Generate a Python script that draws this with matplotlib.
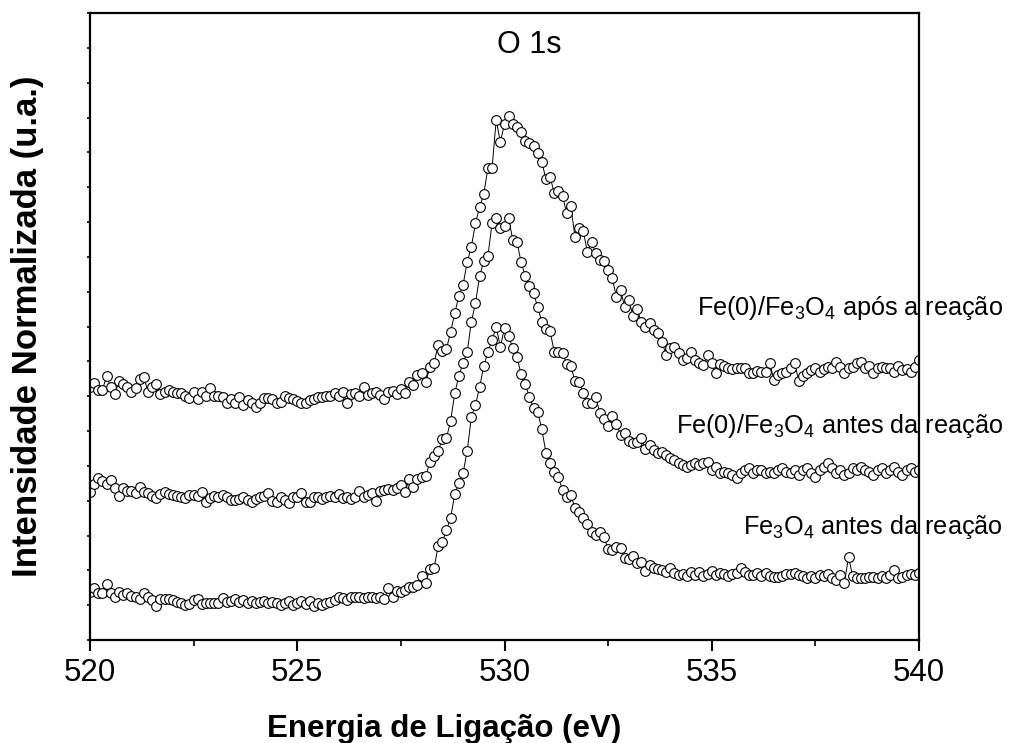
import numpy as np
import matplotlib
matplotlib.use("Agg")
import matplotlib.pyplot as plt
from matplotlib.ticker import MultipleLocator

plt.rcParams['font.family'] = ['Liberation Sans', 'DejaVu Sans']
plt.rcParams['mathtext.fontset'] = 'custom'
plt.rcParams['mathtext.rm'] = 'Liberation Sans'
plt.rcParams['mathtext.it'] = 'Liberation Sans:italic'
plt.rcParams['mathtext.bf'] = 'Liberation Sans:bold'

# binding energy grid (eV), 0.1 eV steps
energia = np.round(np.linspace(520.0, 540.0, 201), 1)

# Fe3O4 antes da reacao (u.a.)
fe3o4_antes = [
    48, 52, 47, 47, 56, 47, 43, 48, 45, 47,
    44, 43, 41, 47, 43, 40, 34, 41, 41, 41,
    40, 38, 37, 35, 36, 40, 41, 36, 37, 37,
    37, 37, 42, 38, 39, 41, 38, 40, 37, 39,
    37, 38, 39, 37, 38, 37, 35, 37, 39, 35,
    37, 39, 36, 39, 34, 37, 35, 37, 38, 40,
    43, 42, 40, 43, 43, 43, 42, 43, 43, 42,
    43, 41, 52, 43, 49, 48, 50, 53, 53, 55,
    64, 57, 71, 72, 94, 98, 110, 122, 146, 157,
    167, 189, 223, 235, 253, 274, 288, 300, 313, 293,
    312, 304, 292, 283, 266, 256, 243, 232, 228, 211,
    187, 177, 168, 163, 150, 143, 145, 132, 128, 122,
    116, 108, 105, 108, 103, 91, 90, 93, 92, 82,
    81, 84, 77, 78, 69, 75, 72, 71, 70, 68,
    72, 67, 65, 66, 64, 68, 65, 68, 64, 66,
    69, 65, 67, 66, 64, 66, 67, 72, 68, 65,
    65, 67, 64, 67, 64, 63, 63, 64, 66, 66,
    67, 65, 64, 62, 64, 62, 65, 64, 66, 62,
    60, 65, 57, 83, 64, 62, 62, 62, 63, 63,
    62, 64, 62, 65, 70, 62, 63, 65, 66, 65, 67,
]

# Fe(0)/Fe3O4 antes da reacao (u.a.)
fe0_antes = [
    148, 156, 162, 159, 156, 160, 152, 144, 152, 149,
    149, 147, 153, 148, 147, 144, 142, 146, 148, 146,
    145, 144, 143, 142, 145, 145, 144, 148, 138, 142,
    144, 143, 145, 143, 140, 140, 141, 143, 140, 138,
    141, 143, 144, 147, 139, 138, 143, 140, 137, 143,
    143, 147, 138, 138, 143, 143, 141, 143, 144, 143,
    146, 142, 143, 141, 143, 149, 143, 145, 147, 139,
    149, 150, 151, 150, 152, 155, 148, 161, 153, 161,
    163, 164, 178, 184, 189, 201, 202, 219, 247, 264,
    277, 288, 318, 337, 364, 379, 384, 417, 422, 412,
    414, 422, 400, 398, 378, 364, 354, 347, 333, 318,
    311, 309, 288, 288, 287, 276, 274, 259, 258, 247,
    237, 237, 243, 227, 221, 214, 224, 216, 205, 207,
    199, 197, 198, 202, 191, 195, 190, 187, 188, 185,
    182, 180, 177, 175, 173, 175, 177, 175, 177, 178,
    170, 173, 167, 168, 167, 165, 162, 167, 170, 172,
    167, 170, 170, 167, 168, 167, 170, 172, 168, 167,
    170, 165, 170, 172, 167, 163, 170, 173, 177, 172,
    167, 170, 165, 167, 172, 170, 173, 170, 168, 165,
    170, 172, 167, 170, 173, 168, 165, 170, 172, 168, 170,
]

# Fe(0)/Fe3O4 apos a reacao (u.a.)
fe0_apos = [
    253, 257, 250, 250, 264, 253, 246, 259, 256, 253,
    248, 252, 261, 263, 248, 253, 256, 246, 248, 250,
    248, 247, 247, 244, 242, 248, 241, 248, 244, 252,
    244, 244, 243, 237, 241, 237, 243, 235, 240, 237,
    233, 237, 242, 242, 241, 237, 238, 244, 242, 241,
    239, 237, 237, 240, 241, 243, 243, 244, 244, 247,
    244, 248, 237, 246, 247, 244, 253, 245, 247, 248,
    245, 241, 248, 249, 246, 251, 247, 258, 255, 265,
    267, 258, 273, 277, 295, 289, 291, 308, 327, 344,
    355, 378, 393, 417, 433, 446, 472, 472, 520, 498,
    516, 524, 516, 513, 508, 499, 497, 494, 487, 478,
    461, 463, 447, 449, 444, 427, 434, 403, 412, 409,
    388, 398, 387, 380, 379, 370, 362, 343, 350, 333,
    340, 324, 331, 318, 313, 317, 310, 307, 298, 285,
    292, 293, 287, 280, 282, 288, 280, 277, 275, 285,
    277, 267, 276, 274, 272, 271, 272, 272, 272, 267,
    267, 269, 268, 268, 277, 260, 265, 267, 268, 272,
    277, 259, 264, 267, 270, 272, 268, 271, 273, 272,
    278, 273, 267, 272, 273, 277, 278, 272, 274, 267,
    272, 273, 272, 272, 268, 274, 270, 271, 268, 273, 280,
]

series = [fe3o4_antes, fe0_antes, fe0_apos]
labels = ['Fe$_3$O$_4$ antes da reação',
          'Fe(0)/Fe$_3$O$_4$ antes da reação',
          'Fe(0)/Fe$_3$O$_4$ após a reação']
label_y = [106, 207, 325]

fig = plt.figure(figsize=(10.09, 7.43), dpi=100)
ax = fig.add_axes([0.0892, 0.1386, 0.8216, 0.8439])

for s in series:
    ax.plot(energia, s, '-', color='black', lw=0.7,
            marker='o', ms=7.0, mfc='white', mec='black', mew=0.8)

ax.set_xlim(520, 540)
ax.set_ylim(0, 627)
ax.xaxis.set_major_locator(MultipleLocator(5))
ax.xaxis.set_minor_locator(MultipleLocator(2.5))
ax.set_yticks(np.linspace(0, 627, 19))
ax.set_yticklabels([])

ax.tick_params(axis='x', which='major', direction='out', length=8, width=1.5,
               labelsize=22.5, pad=5, top=False)
ax.tick_params(axis='x', which='minor', direction='out', length=4, width=1.2, top=False)
ax.tick_params(axis='y', which='major', direction='out', length=2.5, width=1.2, right=False)
for sp in ax.spines.values():
    sp.set_linewidth(1.6)

ax.set_xlabel('Energia de Ligação (eV)', fontsize=22.5, fontweight='bold')
ax.xaxis.set_label_coords(0.427, -0.118)
ax.set_ylabel('Intensidade Normalizada (u.a.)', fontsize=25, fontweight='bold')
ax.yaxis.set_label_coords(-0.056, 0.5)

ax.text(530.6, 595, 'O 1s', fontsize=22, ha='center', va='center')
for lab, yy in zip(labels, label_y):
    ax.text(1.1013, yy, lab, fontsize=18.2, ha='right', va='baseline',
            transform=ax.get_yaxis_transform(), clip_on=False)

fig.savefig('out.png', dpi=100)
